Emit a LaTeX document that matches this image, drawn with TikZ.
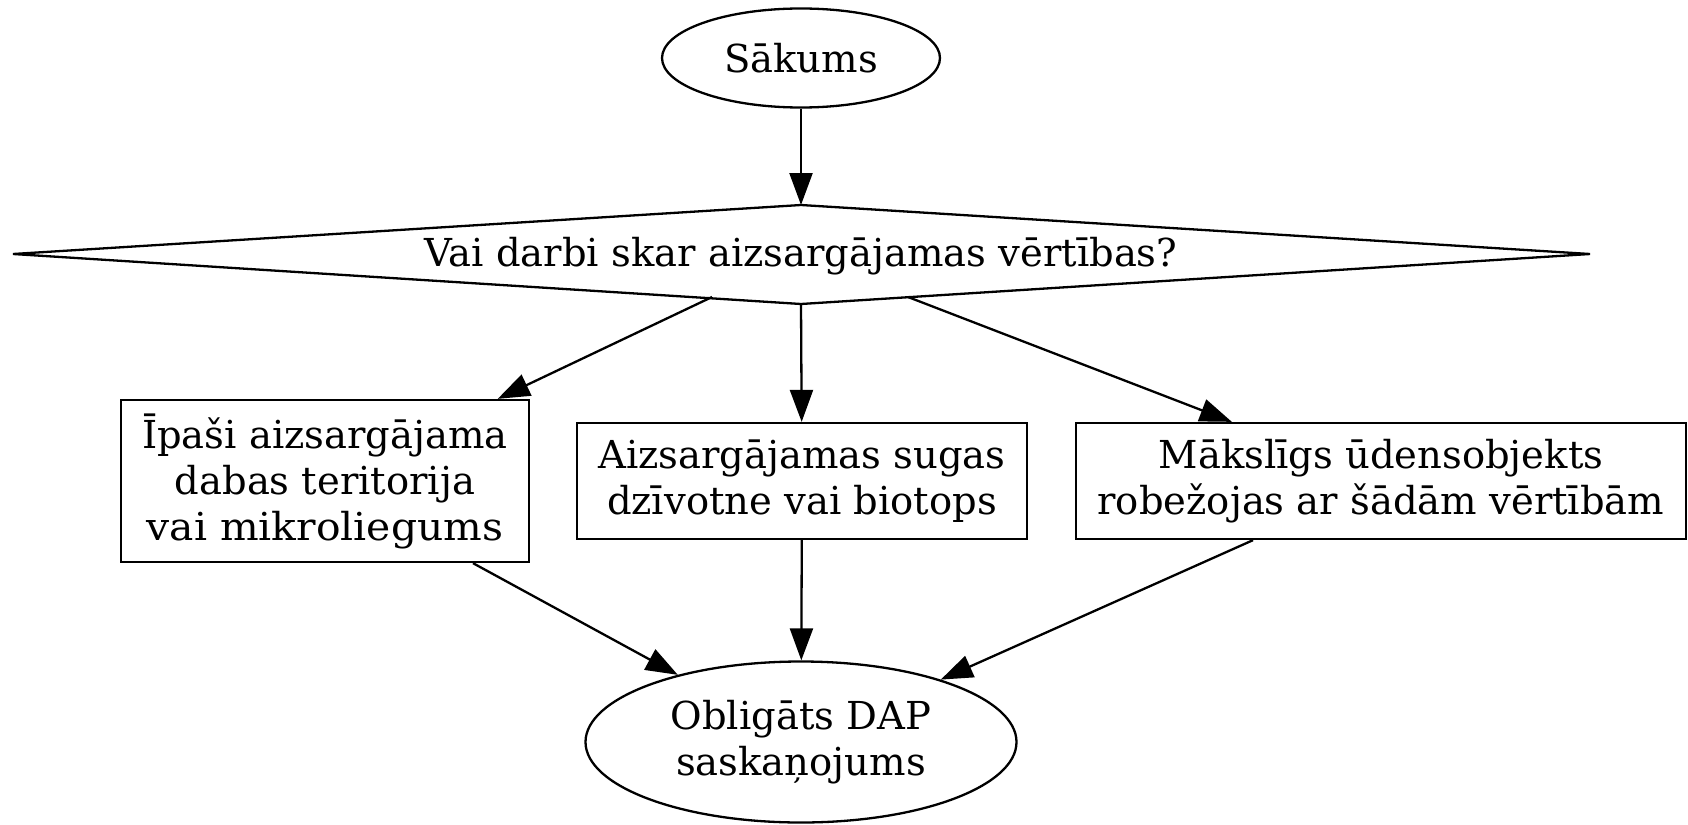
\documentclass[tikz,border=0pt]{standalone}
\usepackage{fontspec}
\setmainfont{DejaVu Serif}
\usetikzlibrary{shapes.geometric,arrows.meta,calc}
\begin{document}
\begin{tikzpicture}[x=1pt,y=-1pt,
  every node/.style={font=\fontsize{38.5}{46}\selectfont, align=center, inner sep=0pt},
  line/.style={line width=2.3pt},
  arr/.style={line width=2.3pt, -{Triangle[length=32pt,width=23pt]}},
  oval/.style={draw, line width=2.3pt, ellipse},
  box/.style={draw, line width=2.3pt, rectangle}]
\useasboundingbox (0,0) rectangle (1688,824);
\node[oval, minimum width=278pt, minimum height=99pt] (start) at (801,58) {Sākums};
\coordinate (dT) at (801,205);
\coordinate (dB) at (801,304);
\coordinate (dL) at (13,254);
\coordinate (dR) at (1590,254);
\draw[line, line join=miter] (dT) -- (dR) -- (dB) -- (dL) -- cycle;
\node (q) at (801,256) {Vai darbi skar aizsargājamas vērtības?};
\coordinate (dtl) at (712,297);
\coordinate (dtr) at (908,297);
\node[box, minimum width=408pt, minimum height=162pt] (b1) at (325,481) {Īpaši aizsargājama\\dabas teritorija\\\scalebox{1.06}[1]{vai mikroliegums}};
\node[box, minimum width=450pt, minimum height=116pt] (b2) at (802,481) {Aizsargājamas sugas\\dzīvotne vai biotops};
\node[box, minimum width=610pt, minimum height=116pt] (b3) at (1381,481) {Mākslīgs ūdensobjekts\\robežojas ar šādām vērtībām};
\node[oval, minimum width=431pt, minimum height=161pt] (end) at (801,742) {Obligāts DAP\\saskaņojums};
\draw[arr] (start) -- (dT);
\draw[arr] (dtl) -- (b1);
\draw[arr] (dB) -- (b2);
\draw[arr] (dtr) -- ($(b3.north west)+(157,0)$);
\draw[arr] ($(b1.south)+(148,0)$) -- (end);
\draw[arr] (b2) -- (end);
\draw[arr] ($(b3.south)+(-128,0)$) -- (end);
\end{tikzpicture}
\end{document}
